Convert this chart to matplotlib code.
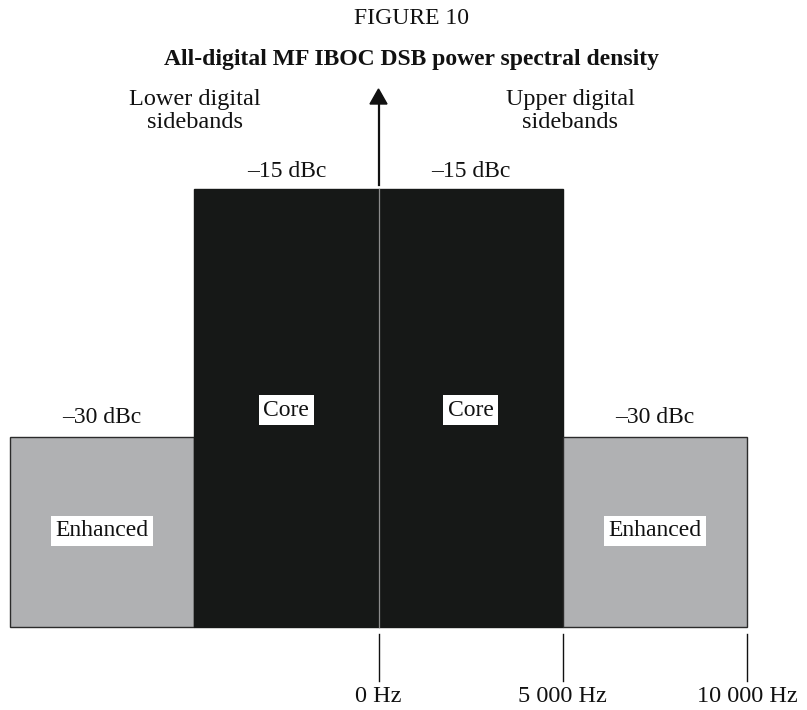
import matplotlib
matplotlib.use("Agg")
import matplotlib.pyplot as plt
from matplotlib.patches import Polygon
from matplotlib.transforms import blended_transform_factory

# ---- data ----
band_left = [-10000, -5000, 0, 5000]      # Hz, left edge of each sideband
band_width = [5000, 5000, 5000, 5000]     # Hz
band_level = [-30, -15, -15, -30]         # dBc
band_name = ["Enhanced", "Core", "Core", "Enhanced"]
band_kind = ["enhanced", "core", "core", "enhanced"]
level_labels = ["\u201330 dBc", "\u201315 dBc", "\u201315 dBc", "\u201330 dBc"]
tick_freqs = [0, 5000, 10000]
tick_labels = ["0 Hz", "5 000 Hz", "10 000 Hz"]
floor_level = -41.5  # drawing floor (bottom of the blocks)

W, H = 807, 710
fig = plt.figure(figsize=(W / 100, H / 100), dpi=100)
ax = fig.add_axes([0, 0, 1, 1])
ax.set_axis_off()

# pixel calibration: x pixel = 378.5 + x*0.03685 ; y pixel(top) = 437 - (y+30)*16.53
x0p, sx = 378.5, 0.03685
y0p, sy = 437.0, 16.53
ax.set_xlim((0 - x0p) / sx, (W - x0p) / sx)
ax.set_ylim(-30 - (H - y0p) / sy, -30 - (0 - y0p) / sy)

def fx(p):
    return p / W

def fy(p):
    return 1 - p / H

serif = ["Liberation Serif", "DejaVu Serif"]
plt.rcParams["font.family"] = serif
FS = 17

colors = {"enhanced": "#b0b1b3", "core": "#161817"}
edges = {"enhanced": "#2b2b2b", "core": "#161817"}

for l, w, lv, kind in zip(band_left, band_width, band_level, band_kind):
    ax.bar(l, lv - floor_level, width=w, bottom=floor_level, align="edge",
           color=colors[kind], edgecolor=edges[kind], linewidth=1.0, zorder=2)

# centre (carrier) line through the core blocks
ax.plot([0, 0], [floor_level, max(band_level)], color="#8c8c8c", lw=0.9, zorder=3)

# level labels above each block
lab_off = {-15: 1.05, -30: 1.15}
for l, w, lv, txt in zip(band_left, band_width, band_level, level_labels):
    cx = l + w / 2
    ax.text(cx, lv + lab_off[lv], txt, ha="center", va="center", fontsize=FS,
            color="#111111", zorder=4)

# names in white boxes
for l, w, lv, nm, kind in zip(band_left, band_width, band_level, band_name, band_kind):
    cx = l + w / 2
    if kind == "core":
        y = -15 - (410 - 189) / sy
    else:
        y = -30 - (531 - 437) / sy
    ax.text(cx, y, nm, ha="center", va="center", fontsize=FS, color="#111111",
            bbox=dict(boxstyle="square,pad=0.2", fc="white", ec="none"), zorder=5)

# frequency ticks below
tr = blended_transform_factory(ax.transData, fig.transFigure)
for f, t in zip(tick_freqs, tick_labels):
    ax.plot([f, f], [fy(634), fy(681)], color="#111111", lw=1.0, transform=tr,
            clip_on=False)
    ax.text(f, fy(697), t, ha="center", va="center", fontsize=FS + 0.5,
            color="#111111", transform=tr)

# upward arrow at carrier
ax.plot([0, 0], [fy(185), fy(102)], color="#111111", lw=1.6, transform=tr,
        clip_on=False)
ax.add_patch(Polygon([(-8.5 / sx, fy(104)), (8.5 / sx, fy(104)), (0, fy(89))],
                     closed=True, color="#111111", transform=tr, clip_on=False))

# sideband captions
fig.text(fx(195), fy(111), "Lower digital\nsidebands", ha="center", va="center",
         fontsize=FS + 0.5, linespacing=1.12, color="#111111")
fig.text(fx(570), fy(111), "Upper digital\nsidebands", ha="center", va="center",
         fontsize=FS + 0.5, linespacing=1.12, color="#111111")

# titles
fig.text(fx(412), fy(19), "FIGURE 10", ha="center", va="center", fontsize=FS,
         color="#111111")
fig.text(fx(412), fy(59), "All-digital MF IBOC DSB power spectral density",
         ha="center", va="center", fontsize=FS, fontweight="bold", color="#111111")

fig.savefig("out.png", dpi=100)
